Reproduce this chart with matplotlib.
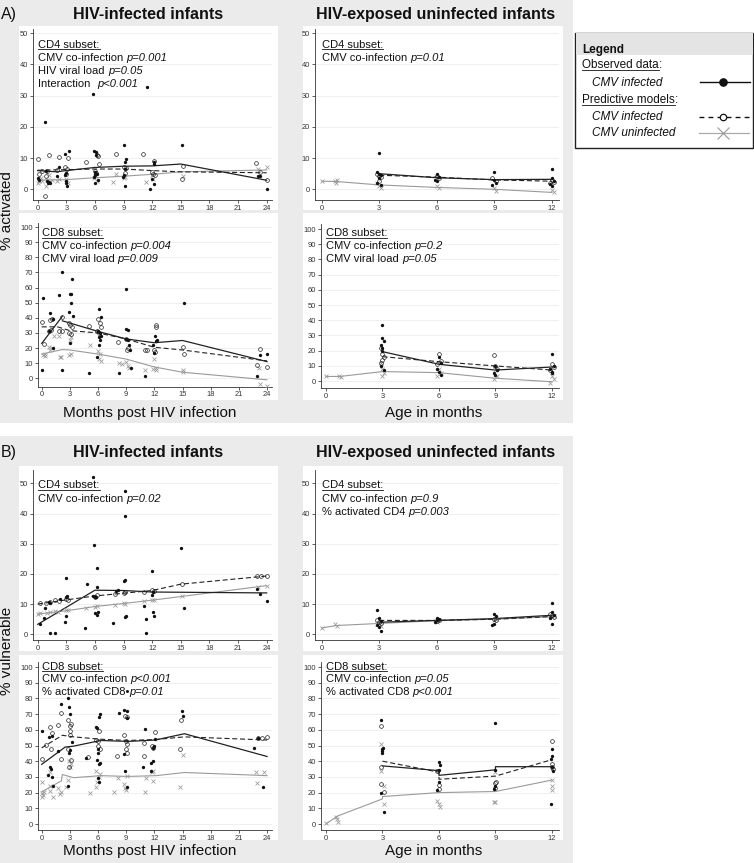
import matplotlib
matplotlib.use('Agg')
import matplotlib.pyplot as plt
from matplotlib.patches import Rectangle
from matplotlib.lines import Line2D

nan = float('nan')

# ---------------- DATA ----------------
# A) % activated, HIV-infected, CD4
act_hiv_cd4_obs_x = [0.8, 5.8, 11.5, 15.1, 9.0, 0.0, 0.9, 1.0, 1.1, 1.2, 1.3, 2.0, 2.2, 2.9, 3.3, 3.0, 3.0, 3.1, 3.0, 5.9, 6.1, 6.1, 6.0, 6.2, 5.9, 6.0, 6.3, 9.1, 9.3, 9.2, 9.0, 8.9, 12.2, 12.2, 11.8, 12.2, 12.0, 23.1, 23.3, 24.0, 2.9, 6.0, 9.1, 0.1]
act_hiv_cd4_obs_y = [21.7, 30.5, 32.8, 14.2, 14.2, 3.7, 5.9, 2.5, 2.0, 2.3, 1.9, 4.2, 7.0, 11.4, 12.2, 2.0, 2.6, 0.9, 5.3, 12.2, 11.8, 10.9, 4.5, 5.0, 4.0, 5.5, 3.0, 8.9, 9.6, 0.9, 4.5, 3.8, 8.6, 8.2, 0.1, 1.8, 3.2, 4.4, 4.4, 0.1, 4.5, 2.0, 6.6, 3.0]
act_hiv_cd4_pinf_x = [0.0, 0.1, 0.5, 1.2, 2.2, 3.2, 2.9, 3.0, 5.1, 6.2, 6.3, 6.4, 6.0, 8.2, 9.0, 9.2, 11.0, 12.2, 12.0, 12.3, 15.2, 15.1, 22.9, 24.0, 0.9, 1.0, 2.0, 3.1, 6.1, 9.3, 12.1, 23.3, 0.8]
act_hiv_cd4_pinf_y = [9.8, 5.0, 6.0, 10.9, 10.3, 10.0, 7.3, 4.8, 8.9, 11.1, 10.6, 8.1, 6.0, 11.4, 7.0, 5.2, 11.4, 9.2, 5.5, 4.6, 7.5, 3.3, 8.4, 3.1, 4.2, 5.8, 6.1, 6.4, 5.3, 6.7, 5.0, 5.5, -2.0]
act_hiv_cd4_punf_x = [0.0, 0.1, 0.3, 0.9, 1.0, 1.2, 2.2, 2.0, 3.0, 3.2, 5.9, 6.0, 6.2, 7.9, 8.2, 9.0, 9.2, 11.3, 12.1, 12.0, 15.2, 23.1, 24.0, 0.5, 1.5]
act_hiv_cd4_punf_y = [2.0, 2.8, 3.5, 1.1, 3.0, 4.5, 3.3, 2.5, 3.2, 2.0, 3.5, 4.2, 2.8, 2.2, 4.8, 3.5, 4.0, 2.2, 3.3, 4.5, 4.4, 6.4, 7.0, 2.5, 3.0]
act_hiv_cd4_lobs_x = [0, 1, 2, 3, 6, 9, 12, 15, 24]
act_hiv_cd4_lobs_y = [6.0, 5.8, 5.6, 6.0, 7.0, 7.4, 7.5, 8.1, 2.9]
act_hiv_cd4_linf_x = [0, 3, 6, 9, 12, 15, 24]
act_hiv_cd4_linf_y = [6.1, 6.3, 6.5, 6.5, 6.0, 5.6, 5.3]
act_hiv_cd4_lunf_x = [0, 3, 6, 9, 12, 15, 24]
act_hiv_cd4_lunf_y = [2.9, 3.1, 3.7, 4.2, 4.8, 5.6, 6.2]

# A) % activated, HIV-infected, CD8
act_hiv_cd8_obs_x = [0.1, 0.9, 1.8, 2.2, 3.2, 3.0, 3.1, 3.1, 2.9, 3.3, 0.8, 1.2, 0.0, 2.2, 5.0, 6.1, 6.3, 6.0, 6.2, 6.3, 6.1, 6.2, 5.9, 6.1, 8.2, 9.0, 9.0, 9.2, 9.0, 9.2, 9.3, 9.4, 9.5, 11.0, 12.1, 12.2, 12.3, 11.9, 12.0, 15.2, 22.9, 23.2, 24.0, 1.2, 3.0]
act_hiv_cd8_obs_y = [52.8, 43, 55, 70.5, 65.6, 56, 55.5, 49.5, 44, 41, 31.5, 39.5, 5.5, 5.5, 3.7, 45.5, 40.2, 31, 30, 28, 27, 25, 14, 22, 3.7, 59, 32.5, 32, 26, 25, 22, 19, 6.6, 1.5, 28, 24.5, 25, 22, 16.5, 50, 1.5, 15.4, 15.8, 20, 23.5]
act_hiv_cd8_pinf_x = [0.0, 0.9, 1.1, 0.8, 1.0, 2.2, 1.8, 2.2, 2.9, 3.0, 3.2, 2.9, 3.1, 5.0, 6.0, 6.2, 6.3, 5.9, 6.1, 8.1, 9.0, 9.2, 9.1, 11.0, 11.2, 12.2, 12.2, 12.1, 12.0, 15.1, 15.2, 23.3, 22.9, 24.0, 0.2]
act_hiv_cd8_pinf_y = [37, 38.5, 39.5, 31.5, 32, 40.5, 31.5, 31.5, 36.5, 35, 34, 30, 29.5, 34.5, 39, 36.5, 34, 31, 30, 24, 26, 20, 19, 18.7, 18.7, 35, 34, 17.6, 19, 20.4, 15.8, 19.1, 8.8, 7.7, 22.8]
act_hiv_cd8_punf_x = [0.1, 0.3, 0.4, 0.8, 1.1, 1.3, 1.8, 1.9, 2.1, 3.0, 3.1, 2.9, 3.1, 5.1, 6.0, 6.2, 6.1, 6.3, 8.2, 8.5, 9.0, 9.2, 9.3, 11.0, 11.8, 12.0, 12.2, 12.2, 15.0, 15.1, 23.1, 23.2, 24.0, 0.9]
act_hiv_cd8_punf_y = [15.5, 16, 15, 21, 20, 28, 28, 14, 14, 25, 27, 15.5, 16, 22, 18, 16, 12.5, 11.5, 10, 9.5, 10.5, 8, 6.5, 5.5, 6, 13, 5.5, 6.5, 5.5, 4, 7, -3.7, -4.8, 19]
act_hiv_cd8_lobs_x = [0, 2.2, nan, 2.2, 6, 9, 12, 15, 24]
act_hiv_cd8_lobs_y = [23, 41, nan, 38, 31, 26, 23.5, 25, 11]
act_hiv_cd8_linf_x = [0, 1.7, 3, 6, 9, 12, 15, 24]
act_hiv_cd8_linf_y = [34, 34, 31.5, 30, 26, 20.5, 18.7, 11.5]
act_hiv_cd8_lunf_x = [0, 2.2, 3, 6, 9, 12, 15, 24]
act_hiv_cd8_lunf_y = [16, 19, 18.7, 16, 12.7, 7.5, 4, -1]

# A) % activated, HEU, CD4
act_heu_cd4_obs_x = [3.0, 2.9, 3.0, 3.1, 3.0, 2.9, 3.1, 6.0, 6.1, 5.9, 6.0, 9.0, 9.0, 9.1, 8.9, 12.0, 12.0, 12.1, 11.9, 12.0]
act_heu_cd4_obs_y = [11.5, 5.5, 5.0, 4.5, 3.5, 2.0, 1.5, 5.0, 4.0, 3.0, 2.5, 5.5, 3.0, 2.0, 1.5, 6.5, 3.5, 2.5, 1.8, 1.0]
act_heu_cd4_pinf_x = [2.9, 3.0, 3.1, 3.0, 6.0, 6.1, 8.9, 9.1, 12.0, 12.1, 11.9]
act_heu_cd4_pinf_y = [5.0, 4.2, 3.8, 2.8, 4.2, 3.6, 3.5, 2.8, 3.0, 2.4, 2.0]
act_heu_cd4_punf_x = [0.0, 0.7, 0.75, 0.8, 2.9, 3.0, 3.1, 6.0, 6.1, 9.0, 9.1, 12.0, 12.1]
act_heu_cd4_punf_y = [2.6, 2.6, 2.1, 2.9, 2.0, 1.2, 0.5, 1.0, 0.3, 0.5, -0.5, -0.2, -1.0]
act_heu_cd4_lobs_x = [3, 6, 9, 12]
act_heu_cd4_lobs_y = [5.0, 3.7, 3.1, 3.2]
act_heu_cd4_linf_x = [3, 6, 9, 12]
act_heu_cd4_linf_y = [4.5, 3.9, 3.0, 2.6]
act_heu_cd4_lunf_x = [0, 0.75, 3, 6, 9, 12]
act_heu_cd4_lunf_y = [2.6, 2.5, 1.4, 0.6, 0.0, -1.0]

# A) % activated, HEU, CD8
act_heu_cd8_obs_x = [3.0, 3.0, 3.1, 2.9, 3.0, 3.0, 2.9, 3.1, 6.0, 6.1, 5.9, 6.0, 6.1, 9.0, 9.1, 8.9, 9.0, 12.0, 12.1, 11.9, 12.0, 12.0]
act_heu_cd8_obs_y = [37, 28, 26, 24, 22, 20, 10, 7, 16, 12, 8, 6, 4, 10, 7, 5, 4, 18, 10, 8, 6, 5]
act_heu_cd8_pinf_x = [2.9, 3.0, 3.1, 3.0, 2.9, 6.0, 6.1, 5.9, 8.9, 9.0, 9.1, 12.0, 12.1, 11.9]
act_heu_cd8_pinf_y = [22, 18, 16, 14, 12, 18, 13, 11, 17, 10, 8, 11, 9, 7]
act_heu_cd8_punf_x = [0.0, 0.7, 0.8, 2.9, 3.0, 3.1, 3.0, 6.0, 6.1, 5.9, 9.0, 9.1, 8.9, 12.0, 12.1, 11.9]
act_heu_cd8_punf_y = [3.3, 3.3, 2.5, 12, 8, 5, 3, 8, 5, 3, 7, 3, 1.5, 3, 1, -1]
act_heu_cd8_lobs_x = [3, 6, 9, 12]
act_heu_cd8_lobs_y = [19.3, 11, 7.2, 9.2]
act_heu_cd8_linf_x = [3, 6, 9, 12]
act_heu_cd8_linf_y = [16, 12.7, 9.9, 7.2]
act_heu_cd8_lunf_x = [0, 0.75, 3, 6, 9, 12]
act_heu_cd8_lunf_y = [3.0, 3.0, 6.2, 5.5, 1.8, -0.5]

# B) % vulnerable, HIV-infected, CD4
vul_hiv_cd4_obs_x = [5.8, 9.2, 9.2, 15.0, 5.9, 6.2, 3.0, 5.2, 6.2, 9.0, 9.1, 12.0, 0.2, 0.8, 1.2, 1.3, 1.3, 1.8, 2.3, 3.0, 3.1, 2.9, 3.0, 5.0, 6.0, 5.8, 6.1, 6.0, 6.2, 6.3, 7.9, 8.2, 8.4, 9.2, 9.3, 11.1, 11.3, 11.3, 12.0, 12.1, 12.2, 12.1, 15.3, 23.0, 23.3, 24.0, 0.7]
vul_hiv_cd4_obs_y = [52.2, 47.5, 39.2, 28.7, 29.5, 21.9, 18.8, 16.6, 15.5, 17.5, 17.9, 21.0, 3.3, 8.6, 10.7, 10.3, 0.5, 0.5, 11.6, 12.3, 12.6, 4.2, 6.2, 2.2, 12.5, 12.8, 12.3, 7.0, 6.5, 7.5, 3.9, 14.5, 14.8, 5.7, 6.0, 9.5, 5.0, 0.5, 13.0, 7.5, 5.9, 14.0, 8.8, 15.0, 13.4, 11.1, 5.5]
vul_hiv_cd4_pinf_x = [0.25, 0.9, 1.3, 1.8, 2.2, 3.0, 3.2, 6.0, 6.2, 8.1, 9.0, 9.2, 11.1, 12.0, 12.2, 15.1, 23.0, 23.4, 24.0]
vul_hiv_cd4_pinf_y = [10.2, 10.5, 10.8, 11.4, 11.0, 11.6, 11.2, 12.5, 13.0, 13.3, 13.8, 14.0, 14.1, 14.7, 14.5, 16.6, 19.3, 19.3, 19.4]
vul_hiv_cd4_punf_x = [0.0, 0.2, 1.0, 1.3, 1.8, 2.1, 3.0, 3.2, 5.1, 6.0, 6.2, 8.1, 9.0, 9.2, 11.1, 12.0, 12.2, 15.1, 23.1, 24.0]
vul_hiv_cd4_punf_y = [6.6, 7.0, 7.0, 7.3, 7.7, 7.4, 8.0, 8.2, 8.6, 9.2, 9.4, 9.8, 10.3, 10.0, 11.0, 11.4, 11.2, 12.7, 15.8, 16.1]
vul_hiv_cd4_lobs_x = [0, 6, 9, 12, 24]
vul_hiv_cd4_lobs_y = [3.3, 14.6, 14.5, 14.0, 13.7]
vul_hiv_cd4_linf_x = [0, 3, 6, 9, 12, 15, 24]
vul_hiv_cd4_linf_y = [10.0, 11.4, 12.7, 13.6, 14.5, 16.6, 19.3]
vul_hiv_cd4_lunf_x = [0, 3, 6, 9, 12, 15, 24]
vul_hiv_cd4_lunf_y = [6.7, 7.8, 9.2, 10.2, 11.3, 12.5, 16.1]

# B) % vulnerable, HIV-infected, CD8
vul_hiv_cd8_obs_x = [0.0, 2.1, 2.8, 2.9, 3.0, 0.8, 1.05, 1.75, 2.9, 3.0, 3.2, 0.9, 1.0, 0.7, 1.05, 1.2, 2.8, 4.7, 5.8, 5.9, 6.1, 6.2, 5.9, 6.0, 6.1, 6.2, 6.0, 6.1, 6.0, 8.2, 8.8, 9.1, 9.1, 8.8, 8.9, 9.1, 10.8, 11.0, 11.6, 11.8, 11.6, 11.8, 12.0, 12.1, 14.9, 15.0, 22.6, 23.0, 23.6]
vul_hiv_cd8_obs_y = [59.5, 76.5, 80.5, 74.5, 70, 55.5, 56, 46.5, 45, 47, 52, 36, 35, 31, 30, 24, 24, 42, 62, 61, 68, 70, 41, 45, 38, 39, 29, 26.5, 48, 70.5, 72.5, 72, 67.5, 44.5, 33.5, 23.5, 36, 60.5, 39, 40, 34, 48.5, 50, 54, 72, 69, 48.5, 55, 23.5]
vul_hiv_cd8_pinf_x = [0.0, 0.9, 1.05, 0.95, 1.75, 2.1, 2.8, 3.0, 3.0, 3.0, 3.1, 2.1, 2.8, 3.1, 4.9, 5.8, 6.0, 6.1, 6.0, 6.2, 8.0, 8.8, 9.0, 9.1, 9.0, 9.1, 8.9, 9.1, 10.9, 10.9, 11.7, 11.9, 12.1, 14.7, 14.8, 23.0, 23.5, 24.0, 0.5, 2.9]
vul_hiv_cd8_pinf_y = [41.5, 62, 58, 47.5, 63, 70.5, 66.5, 57, 59.5, 62.5, 64, 41.5, 47.5, 41, 42.5, 53.5, 53, 59, 50, 48, 43.5, 56.5, 53, 51, 47.5, 45, 68.5, 68, 43.5, 51.5, 50, 48.5, 58.5, 47.5, 66.5, 55, 55, 55.5, 50.5, 36]
vul_hiv_cd8_punf_x = [0.0, 0.1, 0.05, 0.2, 0.0, 0.9, 0.9, 1.2, 0.9, 2.0, 2.1, 1.75, 2.6, 2.8, 3.0, 3.1, 2.9, 5.1, 5.8, 5.9, 5.8, 6.1, 6.2, 7.7, 8.1, 8.8, 8.9, 9.0, 9.1, 11.1, 11.0, 11.7, 11.8, 11.9, 14.7, 15.0, 22.8, 23.7, 22.9]
vul_hiv_cd8_punf_y = [17.5, 18.5, 19.5, 20.5, 26.5, 21, 24.5, 17.5, 33, 19, 20.5, 23, 23.5, 28, 36, 38, 40, 19.5, 23.5, 27, 34, 30, 32, 20.5, 29.5, 25.5, 23, 21.5, 30.5, 29.5, 20.5, 33, 34, 27.5, 23.5, 44, 33, 33, 26]
vul_hiv_cd8_lobs_x = [0, 2.5, 3.4, 6.3, 9.2, 12.1, 15.2, 24]
vul_hiv_cd8_lobs_y = [38, 49, 49.6, 53.2, 52.6, 53.5, 57.5, 43]
vul_hiv_cd8_linf_x = [0, 2.2, 3.4, 6.3, 9.2, 12.1, 15.2, 24]
vul_hiv_cd8_linf_y = [48.5, 56.5, 55.5, 54, 53.2, 53.8, 55.5, 53.5]
vul_hiv_cd8_lunf_x = [0, 2.1, 2.2, 3.4, 6.3, 9.2, 12.2, 15.2, 24]
vul_hiv_cd8_lunf_y = [20.5, 27.5, 31.5, 29.5, 30.8, 30.3, 30.8, 32.8, 30.8]

# B) % vulnerable, HEU, CD4
vul_heu_cd4_obs_x = [2.9, 3.0, 3.1, 2.9, 3.1, 3.0, 6.0, 6.1, 5.9, 6.0, 9.0, 9.1, 8.9, 9.0, 12.0, 12.0, 12.1, 11.9, 12.0]
vul_heu_cd4_obs_y = [8.0, 5.5, 4.5, 3.0, 1.2, 2.5, 5.5, 5.0, 4.2, 4.8, 6.8, 6.0, 3.2, 3.5, 10.5, 7.5, 6.5, 5.5, 3.3]
vul_heu_cd4_pinf_x = [2.9, 3.0, 3.1, 6.0, 6.1, 9.0, 9.1, 12.0, 12.1, 11.9]
vul_heu_cd4_pinf_y = [4.8, 4.2, 3.6, 4.5, 4.8, 5.2, 4.6, 6.3, 5.8, 6.6]
vul_heu_cd4_punf_x = [0.0, 0.7, 0.8, 2.9, 3.0, 3.1, 6.0, 6.1, 9.0, 9.1, 12.0, 12.1]
vul_heu_cd4_punf_y = [2.1, 3.3, 2.8, 3.3, 3.9, 2.9, 4.2, 4.6, 4.8, 5.2, 5.6, 6.1]
vul_heu_cd4_lobs_x = [3, 6, 9, 12]
vul_heu_cd4_lobs_y = [4.0, 4.6, 5.2, 6.3]
vul_heu_cd4_linf_x = [3, 6, 9, 12]
vul_heu_cd4_linf_y = [4.6, 4.6, 5.0, 5.9]
vul_heu_cd4_lunf_x = [0, 0.75, 3, 6, 9, 12]
vul_heu_cd4_lunf_y = [2.1, 2.9, 3.6, 4.5, 5.0, 5.8]

# B) % vulnerable, HEU, CD8
vul_heu_cd8_obs_x = [2.9, 3.0, 2.95, 3.05, 3.0, 2.9, 3.1, 6.0, 6.05, 6.0, 6.0, 5.9, 9.0, 9.0, 9.0, 8.9, 12.0, 12.0, 11.95, 12.0, 12.05, 11.95]
vul_heu_cd8_obs_y = [66.5, 47.5, 46.5, 48.5, 45, 19.6, 7.4, 39.5, 37.5, 34.7, 27, 21.7, 64.4, 34.7, 24, 22, 47.6, 43.4, 41.3, 36, 33.7, 12.8]
vul_heu_cd8_pinf_x = [2.9, 2.9, 2.9, 3.1, 5.9, 6.0, 6.0, 9.0, 9.05, 9.0, 12.0, 12.0, 12.0, 12.05]
vul_heu_cd8_pinf_y = [62.3, 36, 25.5, 20.2, 33.9, 24.8, 22.3, 26, 27, 22.7, 52.8, 38.5, 36.4, 35]
vul_heu_cd8_punf_x = [0.0, 0.55, 0.6, 0.65, 2.9, 2.9, 3.1, 3.1, 5.9, 6.0, 6.05, 8.9, 9.0, 9.0, 12.0, 12.0, 12.0]
vul_heu_cd8_punf_y = [0.6, 4.5, 3.0, 1.3, 51.2, 33.7, 24.2, 12.8, 14.5, 13, 11, 14, 13.7, 33, 28, 24.2, 21.7]
vul_heu_cd8_lobs_x = [3, 6, 6, 9, 9, 12]
vul_heu_cd8_lobs_y = [37, 34, 31, 34.5, 36.5, 36.5]
vul_heu_cd8_linf_x = [3, 6, 6, 9, 12]
vul_heu_cd8_linf_y = [40, 33, 28.5, 30.5, 41]
vul_heu_cd8_lunf_x = [0, 0.6, 3, 3, 6, 9, 12]
vul_heu_cd8_lunf_y = [0, 5, 16, 17.5, 20, 20.7, 28]

xticks_hiv = [0, 3, 6, 9, 12, 15, 18, 21, 24]
xticks_heu = [0, 3, 6, 9, 12]
yticks_50 = [0, 10, 20, 30, 40, 50]
yticks_100 = [0, 10, 20, 30, 40, 50, 60, 70, 80, 90, 100]

# ---------------- FIGURE ----------------
W, H = 754, 863
plt.rcParams['font.family'] = ['Liberation Sans', 'DejaVu Sans']
fig = plt.figure(figsize=(W / 100, H / 100), dpi=100)
renderer = fig.canvas.get_renderer()

GRAY_BG = '#ebebeb'
PT_GRAY = '#9a9a9a'
INK = '#111111'


def frect(x0, y0, x1, y1, z=-5, **kw):
    r = Rectangle((x0 / W, 1 - y1 / H), (x1 - x0) / W, (y1 - y0) / H,
                  transform=fig.transFigure, zorder=z, **kw)
    fig.add_artist(r)
    return r


def fline(xs, ys, **kw):
    fig.add_artist(Line2D([x / W for x in xs], [1 - y / H for y in ys],
                          transform=fig.transFigure, **kw))


def ftext(x, y, s, **kw):
    return fig.text(x / W, 1 - y / H, s, **kw)


# section backgrounds
frect(0, 0, 573, 423, facecolor=GRAY_BG, edgecolor='none')
frect(0, 436, 573, 863, facecolor=GRAY_BG, edgecolor='none')
# white plot panels
for (y0, y1) in [(26, 210), (213, 400), (466, 651), (655, 840)]:
    frect(19, y0, 278, y1, z=-4, facecolor='white', edgecolor='none')
    frect(303, y0, 563, y1, z=-4, facecolor='white', edgecolor='none')

COLS = {
    'L2': dict(spine=33, x0=37.7, xs=9.54, right=272),
    'L3': dict(spine=37.7, x0=41.7, xs=9.39, right=272),
    'R2': dict(spine=315, x0=321.7, xs=19.19, right=559),
    'R3': dict(spine=320.7, x0=326, xs=18.83, right=559),
}
ROWS = {
    'A1': dict(y0=189.3, ys=3.12, top=29, bottom=200),
    'A2': dict(y0=378.3, ys=1.513, top=223, bottom=386.7),
    'A2r': dict(y0=381, ys=1.52, top=224, bottom=388),
    'B1': dict(y0=634.3, ys=3.02, top=470, bottom=640),
    'B2': dict(y0=824, ys=1.57, top=662, bottom=830),
}


def make_ax(col, row, xticks, yticks):
    c, r = COLS[col], ROWS[row]
    ax = fig.add_axes([c['spine'] / W, 1 - r['bottom'] / H,
                       (c['right'] - c['spine']) / W, (r['bottom'] - r['top']) / H])
    ax.set_facecolor('none')
    ax.set_xlim((c['spine'] - c['x0']) / c['xs'], (c['right'] - c['x0']) / c['xs'])
    ax.set_ylim((r['y0'] - r['bottom']) / r['ys'], (r['y0'] - r['top']) / r['ys'])
    for s in ['top', 'right']:
        ax.spines[s].set_visible(False)
    for s in ['left', 'bottom']:
        ax.spines[s].set_color('#333333')
        ax.spines[s].set_linewidth(0.6)
    ax.set_xticks(xticks)
    ax.set_yticks(yticks)
    ax.tick_params(axis='both', length=2.2, width=0.6, color='#444444',
                   labelsize=5.4, labelcolor='#333333', pad=1.2)
    for yv in yticks:
        ax.axhline(yv, color='#ececec', lw=0.6, zorder=0)
    return ax


def draw(ax, ox, oy, px, py, ux, uy, lox, loy, lix, liy, lux, luy):
    ax.plot(lux, luy, color=PT_GRAY, lw=0.8, zorder=2)
    ax.plot(lix, liy, color='#222222', lw=0.8, dashes=(4.5, 2.5), zorder=3)
    ax.plot(lox, loy, color='#222222', lw=0.9, zorder=3)
    ax.plot(ux, uy, ls='none', marker='x', ms=3.2, mew=0.55, color=PT_GRAY, zorder=4)
    ax.plot(px, py, ls='none', marker='o', ms=2.7, mew=0.5, mfc='none', mec='#222222', zorder=5)
    ax.plot(ox, oy, ls='none', marker='o', ms=2.4, mew=0, color=INK, zorder=6)


SP = 8.0
SPACE_EM = 0.278


def rich(x, y, parts, size=SP, color=INK):
    space = SPACE_EM * size * 100 / 72
    cx = x
    for txt, sty in parts:
        lead = len(txt) - len(txt.lstrip(' '))
        cx += lead * space
        core = txt.strip(' ')
        t = ftext(cx, y, core, fontsize=size, va='baseline', ha='left', color=color,
                  style='italic' if 'i' in sty else 'normal',
                  weight='bold' if 'b' in sty else 'normal')
        bb = t.get_window_extent(renderer)
        if 'u' in sty:
            fline([cx, bb.x1], [y + 1.8, y + 1.8], color=color, lw=0.6)
        cx = bb.x1
        trail = len(txt) - len(txt.rstrip(' '))
        cx += trail * space


def annot(x, y, lines, dy=13.0):
    for i, parts in enumerate(lines):
        rich(x, y + i * dy, parts)


# ---- Panels ----
ax = make_ax('L2', 'A1', xticks_hiv, yticks_50)
draw(ax, act_hiv_cd4_obs_x, act_hiv_cd4_obs_y, act_hiv_cd4_pinf_x, act_hiv_cd4_pinf_y,
     act_hiv_cd4_punf_x, act_hiv_cd4_punf_y, act_hiv_cd4_lobs_x, act_hiv_cd4_lobs_y,
     act_hiv_cd4_linf_x, act_hiv_cd4_linf_y, act_hiv_cd4_lunf_x, act_hiv_cd4_lunf_y)
annot(38.3, 47.7, [[('CD4 subset:', 'u')],
                   [('CMV co-infection ', ''), ('p=0.001', 'i')],
                   [('HIV viral load ', ''), ('p=0.05', 'i')],
                   [('Interaction  ', ''), ('p<0.001', 'i')]], dy=13.2)

ax = make_ax('L3', 'A2', xticks_hiv, yticks_100)
draw(ax, act_hiv_cd8_obs_x, act_hiv_cd8_obs_y, act_hiv_cd8_pinf_x, act_hiv_cd8_pinf_y,
     act_hiv_cd8_punf_x, act_hiv_cd8_punf_y, act_hiv_cd8_lobs_x, act_hiv_cd8_lobs_y,
     act_hiv_cd8_linf_x, act_hiv_cd8_linf_y, act_hiv_cd8_lunf_x, act_hiv_cd8_lunf_y)
annot(41.7, 236.5, [[('CD8 subset:', 'u')],
                    [('CMV co-infection ', ''), ('p=0.004', 'i')],
                    [('CMV viral load ', ''), ('p=0.009', 'i')]], dy=12.7)

ax = make_ax('R2', 'A1', xticks_heu, yticks_50)
draw(ax, act_heu_cd4_obs_x, act_heu_cd4_obs_y, act_heu_cd4_pinf_x, act_heu_cd4_pinf_y,
     act_heu_cd4_punf_x, act_heu_cd4_punf_y, act_heu_cd4_lobs_x, act_heu_cd4_lobs_y,
     act_heu_cd4_linf_x, act_heu_cd4_linf_y, act_heu_cd4_lunf_x, act_heu_cd4_lunf_y)
annot(321.7, 47.7, [[('CD4 subset:', 'u')],
                    [('CMV co-infection ', ''), ('p=0.01', 'i')]], dy=13.2)

ax = make_ax('R3', 'A2r', xticks_heu, yticks_100)
draw(ax, act_heu_cd8_obs_x, act_heu_cd8_obs_y, act_heu_cd8_pinf_x, act_heu_cd8_pinf_y,
     act_heu_cd8_punf_x, act_heu_cd8_punf_y, act_heu_cd8_lobs_x, act_heu_cd8_lobs_y,
     act_heu_cd8_linf_x, act_heu_cd8_linf_y, act_heu_cd8_lunf_x, act_heu_cd8_lunf_y)
annot(326, 236.5, [[('CD8 subset:', 'u')],
                   [('CMV co-infection ', ''), ('p=0.2', 'i')],
                   [('CMV viral load ', ''), ('p=0.05', 'i')]], dy=12.7)

ax = make_ax('L2', 'B1', xticks_hiv, yticks_50)
draw(ax, vul_hiv_cd4_obs_x, vul_hiv_cd4_obs_y, vul_hiv_cd4_pinf_x, vul_hiv_cd4_pinf_y,
     vul_hiv_cd4_punf_x, vul_hiv_cd4_punf_y, vul_hiv_cd4_lobs_x, vul_hiv_cd4_lobs_y,
     vul_hiv_cd4_linf_x, vul_hiv_cd4_linf_y, vul_hiv_cd4_lunf_x, vul_hiv_cd4_lunf_y)
annot(38.3, 488.3, [[('CD4 subset:', 'u')],
                    [('CMV co-infection ', ''), ('p=0.02', 'i')]], dy=13.3)

ax = make_ax('L3', 'B2', xticks_hiv, yticks_100)
draw(ax, vul_hiv_cd8_obs_x, vul_hiv_cd8_obs_y, vul_hiv_cd8_pinf_x, vul_hiv_cd8_pinf_y,
     vul_hiv_cd8_punf_x, vul_hiv_cd8_punf_y, vul_hiv_cd8_lobs_x, vul_hiv_cd8_lobs_y,
     vul_hiv_cd8_linf_x, vul_hiv_cd8_linf_y, vul_hiv_cd8_lunf_x, vul_hiv_cd8_lunf_y)
annot(41.7, 669.5, [[('CD8 subset:', 'u')],
                    [('CMV co-infection ', ''), ('p<0.001', 'i')],
                    [('% activated CD8\u2022', ''), ('p=0.01', 'i')]], dy=12.5)

ax = make_ax('R2', 'B1', xticks_heu, yticks_50)
draw(ax, vul_heu_cd4_obs_x, vul_heu_cd4_obs_y, vul_heu_cd4_pinf_x, vul_heu_cd4_pinf_y,
     vul_heu_cd4_punf_x, vul_heu_cd4_punf_y, vul_heu_cd4_lobs_x, vul_heu_cd4_lobs_y,
     vul_heu_cd4_linf_x, vul_heu_cd4_linf_y, vul_heu_cd4_lunf_x, vul_heu_cd4_lunf_y)
annot(321.7, 488.3, [[('CD4 subset:', 'u')],
                     [('CMV co-infection ', ''), ('p=0.9', 'i')],
                     [('% activated CD4 ', ''), ('p=0.003', 'i')]], dy=13.3)

ax = make_ax('R3', 'B2', xticks_heu, yticks_100)
draw(ax, vul_heu_cd8_obs_x, vul_heu_cd8_obs_y, vul_heu_cd8_pinf_x, vul_heu_cd8_pinf_y,
     vul_heu_cd8_punf_x, vul_heu_cd8_punf_y, vul_heu_cd8_lobs_x, vul_heu_cd8_lobs_y,
     vul_heu_cd8_linf_x, vul_heu_cd8_linf_y, vul_heu_cd8_lunf_x, vul_heu_cd8_lunf_y)
annot(326, 669.5, [[('CD8 subset:', 'u')],
                   [('CMV co-infection ', ''), ('p=0.05', 'i')],
                   [('% activated CD8 ', ''), ('p<0.001', 'i')]], dy=12.5)

# ---- Titles & axis labels ----
for yb, letter in [(19, 'A)'), (456.7, 'B)')]:
    ftext(0.5, yb, letter, fontsize=11.5, va='baseline', ha='left', color=INK)
    ftext(148.3, yb, 'HIV-infected infants', fontsize=11.5, weight='bold',
          va='baseline', ha='center', color=INK)
    ftext(435.5, yb, 'HIV-exposed uninfected infants', fontsize=11.5, weight='bold',
          va='baseline', ha='center', color=INK)
for yb in [416.7, 855]:
    ftext(149.7, yb, 'Months post HIV infection', fontsize=11, va='baseline',
          ha='center', color=INK)
    ftext(434, yb, 'Age in months', fontsize=11, va='baseline', ha='center', color=INK)
ftext(7, 211, '% activated', fontsize=11, rotation=90, va='center', ha='center', color=INK)
ftext(7, 651, '% vulnerable', fontsize=11, rotation=90, va='center', ha='center', color=INK)

# ---- Legend box ----
frect(575, 33, 753, 148, z=-3, facecolor='white', edgecolor='#222222', lw=1.0)
frect(575.5, 33.5, 752.5, 55, z=-2, facecolor='#e4e4e4', edgecolor='none')
LS = 8.5
ftext(582, 52.7, 'Legend', fontsize=LS, weight='bold', va='baseline', ha='left', color=INK)
rich(582, 68.3, [('Observed data', 'u'), (':', '')], size=LS)
ftext(592, 85.5, 'CMV infected', fontsize=LS, style='italic', va='baseline', ha='left', color=INK)
rich(582, 103, [('Predictive models', 'u'), (':', '')], size=LS)
ftext(592, 119.7, 'CMV infected', fontsize=LS, style='italic', va='baseline', ha='left', color=INK)
ftext(592, 135.7, 'CMV uninfected', fontsize=LS, style='italic', va='baseline', ha='left', color=INK)
fline([700, 750], [82.5, 82.5], color='#111111', lw=1.0)
fline([723], [82.5], ls='none', marker='o', ms=5.2, color='#111111')
fline([699, 750], [116.5, 116.5], color='#111111', lw=1.0, dashes=(3.5, 3))
fline([723], [116.5], ls='none', marker='o', ms=4.6, mfc='white', mec='#111111', mew=0.9)
fline([699, 749], [133, 133], color='#aaaaaa', lw=0.9)
fline([723], [133], ls='none', marker='x', ms=8.5, mew=0.8, color='#999999')

fig.savefig('out.png', dpi=100)
